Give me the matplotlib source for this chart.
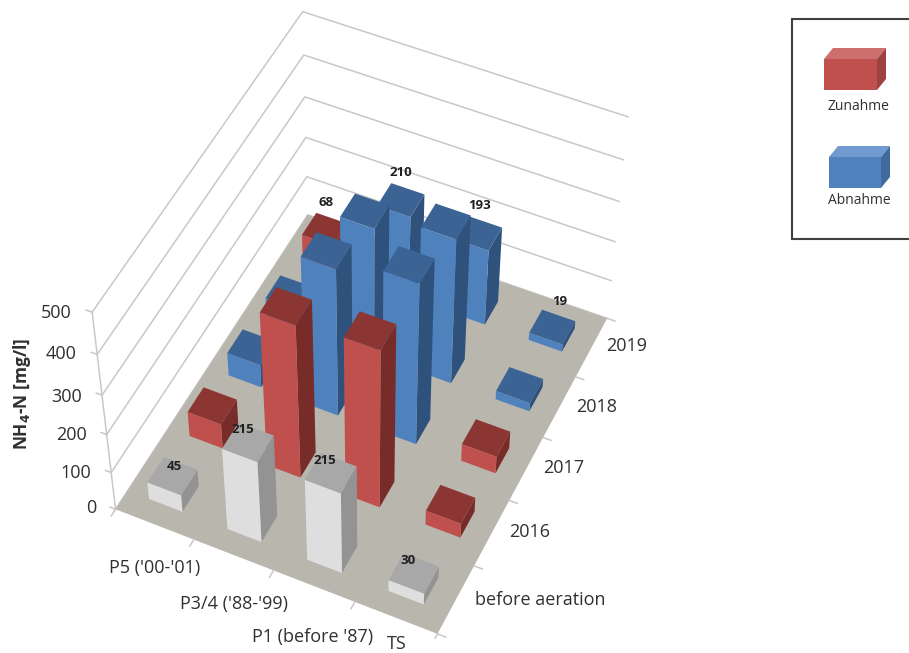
import matplotlib
matplotlib.use('Agg')
import matplotlib.pyplot as plt
from matplotlib.patches import Polygon, Rectangle
from mpl_toolkits.mplot3d import proj3d
from mpl_toolkits.mplot3d.art3d import Poly3DCollection

W, H = 909, 653

# Data
sites = ["P5 ('00-'01)", "P3/4 ('88-'99)", "P1 (before '87)", "TS"]
periods = ['before aeration', '2016', '2017', '2018', '2019']
z_ticks = [0, 100, 200, 300, 400, 500]

before = [45, 215, 215, 30]
y2016 = [65, 392, 405, 38]
y2017 = [60, 375, 410, 45]
y2018 = [50, 325, 367, 22]
y2019 = [68, 210, 193, 19]
values = [before, y2016, y2017, y2018, y2019]

# n = start value, z = Zunahme, a = Abnahme
kinds = [
    ['n', 'n', 'n', 'n'],
    ['z', 'z', 'z', 'z'],
    ['a', 'a', 'a', 'z'],
    ['a', 'a', 'a', 'a'],
    ['z', 'a', 'a', 'a'],
]
labelled = [(0, 0), (0, 1), (0, 2), (0, 3), (4, 0), (4, 1), (4, 2), (4, 3)]

# top, front, side
face_cols = {
    'n': ('#a8a8a8', '#dedede', '#939393'),
    'z': ('#8c3634', '#c0504d', '#772c2a'),
    'a': ('#3b6494', '#4f81bd', '#2f527c'),
}
hidden = (0, 0, 0, 0)
grid_col = '#c8c8c8'
text_col = '#303030'

plt.rcParams['font.family'] = ['Open Sans', 'DejaVu Sans']

fig = plt.figure(figsize=(W / 100, H / 100), dpi=100)
side = 630
ax = fig.add_axes([45 / W, 14 / H, side / W, side / H], projection='3d', computed_zorder=False)
ax.set_proj_type('persp', focal_length=0.8)
ax.view_init(elev=49.5, azim=-65)
ax.set_box_aspect((342, 428, 294))
ax.set_xlim(0, len(sites))
ax.set_ylim(0, len(periods))
ax.set_zlim(0, 500)
ax.set_axis_off()

nx, ny = len(sites), len(periods)

# wall lines
for z in z_ticks:
    ax.plot([0, 0, nx], [0, ny, ny], [z, z, z], color=grid_col, lw=1.1, zorder=1)
ax.plot([0, 0], [0, 0], [0, 500], color=grid_col, lw=1.1, zorder=1)

# floor
floor = Poly3DCollection([[(0, 0, 0), (nx, 0, 0), (nx, ny, 0), (0, ny, 0)]],
                         facecolor='#b9b6ae', edgecolor='none', zorder=2)
ax.add_collection3d(floor)

# ticks
for z in z_ticks:
    ax.plot([0, -0.07], [0, 0], [z, z], color=grid_col, lw=1.1, zorder=3)
for i in range(nx + 1):
    ax.plot([i, i], [0, -0.1], [0, 0], color=grid_col, lw=1.1, zorder=3)
for j in range(ny + 1):
    ax.plot([nx, nx + 0.1], [j, j], [0, 0], color=grid_col, lw=1.1, zorder=3)

# bars, back to front
bw, bd = 0.43, 0.40
order = 10
for j in range(ny - 1, -1, -1):
    for i in range(nx):
        top, front, right = face_cols[kinds[j][i]]
        # bottom, top, -y, +y, -x, +x
        cols = [hidden, top, front, hidden, hidden, right]
        ax.bar3d(i + 0.49 - bw / 2, j + 0.49 - bd / 2, 0, bw, bd, values[j][i],
                 color=cols, shade=False, linewidth=0, zorder=order)
        order += 1

# value labels, projected by hand so they stay plain 2D text
M = ax.get_proj()
label_dx = [0.45, 0.36, 0.36, 0.36, 0.30, 0.30, 0.33, 0.42]
for (j, i), dx in zip(labelled, label_dx):
    y_off = 0.62 if j == 0 else 0.9
    x2, y2, _ = proj3d.proj_transform(i + dx, j + y_off, values[j][i], M)
    ax.text2D(x2, y2, str(values[j][i]), transform=ax.transData, ha='center', va='center',
              fontsize=9.5, fontweight='bold', color='#202020', zorder=100)


def px_text(x, y, s, **kw):
    fig.text(x / W, 1 - y / H, s, color=text_col, **kw)


# axis labels
for s, y, x in zip(['0', '100', '200', '300', '400', '500'],
                   [508, 473, 435, 397, 354, 313], [96, 91, 87, 82, 77, 72]):
    px_text(x, y, s, ha='right', va='center', fontsize=13)
for s, x, y in zip(sites, [155, 234, 313, 397], [568, 604, 637, 644]):
    px_text(x, y, s, ha='center', va='center', fontsize=13)
for s, x, y in zip(periods, [540, 530, 564, 597, 627], [600, 532, 468, 407, 346]):
    px_text(x, y, s, ha='center', va='center', fontsize=13)
px_text(22, 394, r'NH$_{\mathbf{4}}$-N [mg/l]', ha='center', va='center', rotation=90,
        fontsize=12.5, fontweight='bold')

# legend box on a plain overlay
ov = fig.add_axes([0, 0, 1, 1], facecolor='none')
ov.set_xlim(0, W)
ov.set_ylim(H, 0)
ov.axis('off')
ov.add_patch(Rectangle((792, 19), 130, 220, fc='white', ec='#404040', lw=1.5, clip_on=False))


def key_box(x0, x1, y0, y1, dx, dy, top, front, right):
    ov.add_patch(Polygon([(x0, y0), (x0 + dx, y0 - dy), (x1 + dx, y0 - dy), (x1, y0)], fc=top, ec='none'))
    ov.add_patch(Polygon([(x1, y0), (x1 + dx, y0 - dy), (x1 + dx, y1 - dy), (x1, y1)], fc=right, ec='none'))
    ov.add_patch(Rectangle((x0, y0), x1 - x0, y1 - y0, fc=front, ec='none'))


key_box(824, 877, 59, 90, 9, 11, '#cd6f6c', '#c0504d', '#9c4240')
key_box(829, 881, 157, 188, 9, 11, '#719bd0', '#4f81bd', '#3f6a9e')
ov.text(858, 106, 'Zunahme', ha='center', va='center', fontsize=10, color=text_col)
ov.text(859, 201, 'Abnahme', ha='center', va='center', fontsize=10, color=text_col)

fig.savefig('out.png', dpi=100)
